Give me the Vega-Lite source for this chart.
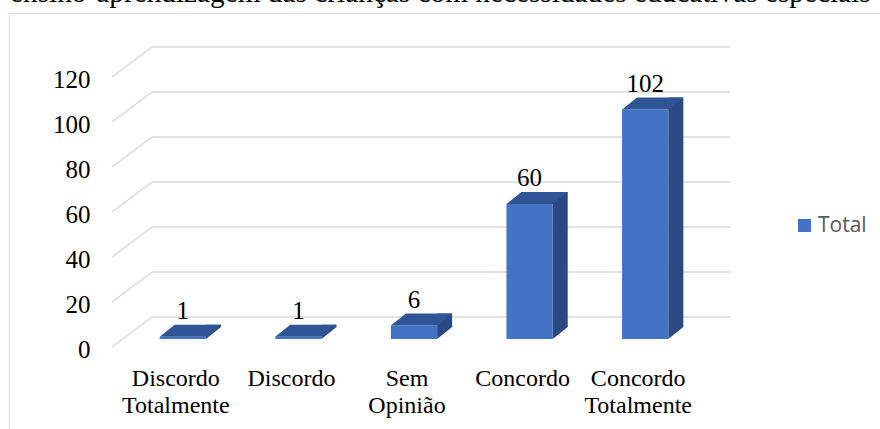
{
  "$schema": "https://vega.github.io/schema/vega-lite/v6.json",
  "width": 871,
  "height": 416,
  "autosize": {"type": "none"},
  "padding": {"left": 9, "top": 13, "right": 0, "bottom": 0},
  "background": "white",
  "title": {
    "text": "ensino-aprendizagem das crianças com necessidades educativas especiais",
    "anchor": "start",
    "frame": "group",
    "dx": 1,
    "dy": 18,
    "offset": 0,
    "baseline": "alphabetic",
    "font": "Liberation Serif",
    "fontSize": 29.3,
    "fontWeight": "normal",
    "color": "black"
  },
  "datasets": {
    "bars": [
      {"cat": "Discordo Totalmente", "v": 1, "series": "Total"},
      {"cat": "Discordo", "v": 1, "series": "Total"},
      {"cat": "Sem Opinião", "v": 6, "series": "Total"},
      {"cat": "Concordo", "v": 60, "series": "Total"},
      {"cat": "Concordo Totalmente", "v": 102, "series": "Total"}
    ],
    "grid": [
      {"g": 0}, {"g": 20}, {"g": 40}, {"g": 60}, {"g": 80}, {"g": 100}, {"g": 120}
    ]
  },
  "layer": [
    {
      "data": {"name": "grid"},
      "mark": {"type": "rule", "yOffset": -22, "color": "#D9D9D9", "strokeWidth": 1.5},
      "encoding": {
        "x": {"value": 143},
        "x2": {"value": 721},
        "y": {"field": "g", "type": "quantitative", "scale": {"domain": [0, 120], "range": [326, 56], "nice": false}, "axis": {"title": null, "values": [0, 20, 40, 60, 80, 100, 120]}}
      }
    },
    {
      "data": {"name": "grid"},
      "mark": {"type": "rule", "yOffset": 8, "y2Offset": -22, "color": "#D9D9D9", "strokeWidth": 1.5},
      "encoding": {
        "x": {"value": 103},
        "x2": {"value": 143},
        "y": {"field": "g", "type": "quantitative", "scale": {"domain": [0, 120], "range": [326, 56], "nice": false}, "axis": {"title": null, "values": [0, 20, 40, 60, 80, 100, 120]}},
        "y2": {"field": "g"}
      }
    },
    {
      "data": {"name": "bars"},
      "encoding": {
        "x": {
          "field": "cat",
          "type": "nominal",
          "sort": null,
          "scale": {
            "domain": ["Discordo Totalmente", "Discordo", "Sem Opinião", "Concordo", "Concordo Totalmente"],
            "range": [116, 694],
            "paddingInner": 0.6,
            "paddingOuter": 0.3
          },
          "axis": {"title": null}
        }
      },
      "layer": [
        {
          "mark": {"type": "bar", "width": 15, "xOffset": 30.62, "yOffset": -12, "y2Offset": -12, "color": "#294A84"},
          "encoding": {
            "y": {"field": "v", "type": "quantitative", "scale": {"domain": [0, 120], "range": [326, 56], "nice": false}, "axis": {"title": null, "values": [0, 20, 40, 60, 80, 100, 120]}},
            "y2": {"datum": 0}
          }
        },
        {
          "mark": {"type": "point", "shape": "M23.12,0L23.12,-12L38.12,-12Z", "size": 4, "filled": true, "opacity": 1, "color": "#294A84", "strokeWidth": 0},
          "encoding": {
            "y": {"datum": 0, "type": "quantitative", "scale": {"domain": [0, 120], "range": [326, 56], "nice": false}, "axis": {"title": null, "values": [0, 20, 40, 60, 80, 100, 120]}}
          }
        },
        {
          "mark": {"type": "bar"},
          "encoding": {
            "y": {"field": "v", "type": "quantitative", "scale": {"domain": [0, 120], "range": [326, 56], "nice": false}, "axis": {"title": null, "values": [0, 20, 40, 60, 80, 100, 120]}},
            "color": {
              "field": "series",
              "type": "nominal",
              "scale": {"domain": ["Total"], "range": ["#4472C4"]},
              "legend": {
                "orient": "none",
                "legendX": 785,
                "legendY": 202,
                "title": null,
                "symbolType": "square",
                "symbolSize": 169,
                "symbolStrokeWidth": 0,
                "labelFont": "Open Sans",
                "labelFontSize": 21,
                "labelColor": "#595959",
                "labelOffset": 3,
                "padding": 0
              }
            }
          }
        },
        {
          "mark": {"type": "point", "shape": "M-23.12,0L23.12,0L38.12,-12L-8.12,-12Z", "size": 4, "filled": true, "opacity": 1, "color": "#2F5597", "strokeWidth": 0},
          "encoding": {
            "y": {"field": "v", "type": "quantitative", "scale": {"domain": [0, 120], "range": [326, 56], "nice": false}, "axis": {"title": null, "values": [0, 20, 40, 60, 80, 100, 120]}}
          }
        },
        {
          "mark": {"type": "text", "dy": -18, "baseline": "alphabetic", "font": "Liberation Serif", "fontSize": 25, "color": "black"},
          "encoding": {
            "y": {"field": "v", "type": "quantitative", "scale": {"domain": [0, 120], "range": [326, 56], "nice": false}, "axis": {"title": null, "values": [0, 20, 40, 60, 80, 100, 120]}},
            "text": {"field": "v", "type": "quantitative"}
          }
        }
      ]
    }
  ],
  "config": {
    "view": {"stroke": "#D9D9D9", "strokeWidth": 1},
    "axisX": {
      "offset": -90,
      "labelPadding": 46,
      "labelBaseline": "alphabetic",
      "labelLineHeight": 27,
      "labelOffset": -7,
      "labelFont": "Liberation Serif",
      "labelFontSize": 24,
      "labelColor": "black",
      "ticks": false,
      "domain": false,
      "grid": false,
      "labelAngle": 0,
      "labelExpr": "split(datum.label, ' ')",
      "labelOverlap": false,
      "labelBound": false,
      "labelFlush": false
    },
    "axisY": {
      "offset": -81,
      "labelPadding": 0,
      "ticks": false,
      "domain": false,
      "grid": false,
      "labelFont": "Liberation Serif",
      "labelFontSize": 25,
      "labelColor": "black",
      "labelBaseline": "alphabetic",
      "labelOffset": 18
    }
  }
}
